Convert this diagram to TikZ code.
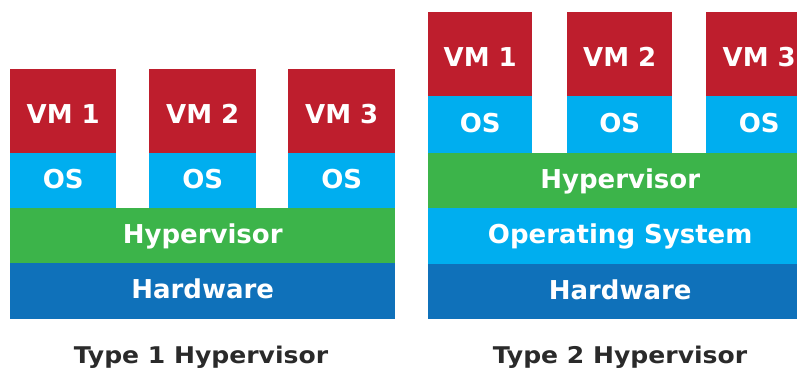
\documentclass[tikz,border=0pt]{standalone}
\usepackage{fontspec}
\newfontfamily\labfont{DejaVu Sans}
\definecolor{vmred}{HTML}{BE1E2D}
\definecolor{osblue}{HTML}{00AEEF}
\definecolor{hvgreen}{HTML}{3CB44A}
\definecolor{hwblue}{HTML}{0F71BA}
\definecolor{captext}{HTML}{2A2A2A}
\tikzset{
  layer/.style={rectangle, inner sep=0pt, anchor=north west, text=white,
    font=\labfont\bfseries\fontsize{26}{30}\selectfont, text height=15pt, text depth=0pt},
  vmbox/.style={layer, fill=vmred, minimum height=84pt, text height=25pt},
  osbox/.style={layer, fill=osblue},
  hvbox/.style={layer, fill=hvgreen, minimum height=55pt},
  hwbox/.style={layer, fill=hwblue, minimum height=56pt},
  caption/.style={anchor=base, inner sep=0pt, text=captext,
    font=\labfont\bfseries\fontsize{23}{26}\selectfont}
}
\begin{document}
\begin{tikzpicture}[x=1pt,y=-1pt]
\useasboundingbox (0,0) rectangle (797,373);
\clip (0,0) rectangle (797,373);
% Type 1
\node[vmbox, minimum width=106pt] (a-vm1) at (10,69) {VM 1};
\node[vmbox, minimum width=107pt] (a-vm2) at (149,69) {VM 2};
\node[vmbox, minimum width=107pt] (a-vm3) at (288,69) {VM 3};
\node[osbox, minimum width=106pt, minimum height=55pt] (a-os1) at (10,153) {OS};
\node[osbox, minimum width=107pt, minimum height=55pt] (a-os2) at (149,153) {OS};
\node[osbox, minimum width=107pt, minimum height=55pt] (a-os3) at (288,153) {OS};
\node[hvbox, minimum width=385pt] (a-hv) at (10,208) {Hypervisor};
\node[hwbox, minimum width=385pt] (a-hw) at (10,263) {Hardware};
\node[caption] (a-cap) at (201,363) {\scalebox{1.09}[1]{Type 1 Hypervisor}};
% Type 2
\node[vmbox, minimum width=104pt] (b-vm1) at (428,12) {VM 1};
\node[vmbox, minimum width=105pt] (b-vm2) at (567,12) {VM 2};
\node[vmbox, minimum width=106pt] (b-vm3) at (706,12) {VM 3};
\node[osbox, minimum width=104pt, minimum height=57pt] (b-os1) at (428,96) {OS};
\node[osbox, minimum width=105pt, minimum height=57pt] (b-os2) at (567,96) {OS};
\node[osbox, minimum width=106pt, minimum height=57pt] (b-os3) at (706,96) {OS};
\node[hvbox, minimum width=384pt] (b-hv) at (428,153) {Hypervisor};
\node[osbox, minimum width=384pt, minimum height=56pt] (b-os) at (428,208) {Operating System};
\node[hwbox, minimum width=384pt, minimum height=55pt] (b-hw) at (428,264) {Hardware};
\node[caption] (b-cap) at (620,363) {\scalebox{1.09}[1]{Type 2 Hypervisor}};
\end{tikzpicture}
\end{document}
